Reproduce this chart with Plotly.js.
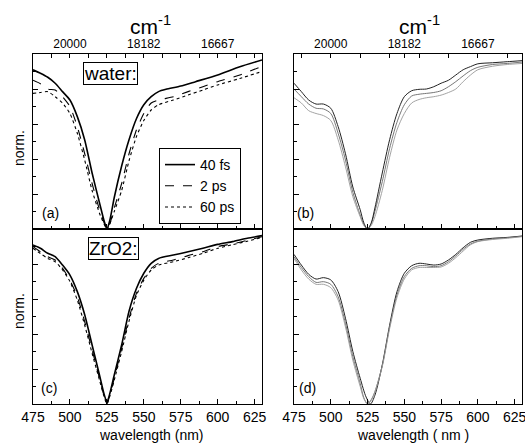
<!DOCTYPE html>
<html>
<head>
<meta charset="utf-8">
<script src="https://cdn.plot.ly/plotly-3.0.1.min.js"></script>
<style>html,body{margin:0;padding:0;background:#fff;}#chart{width:525px;height:443px;}</style>
</head>
<body>
<div id="chart"></div>
<script>
// ---------- data ----------
// Panel (a): water, measured spectra
const waterX = [475,480,485,490,495,500,505,510,515,520,523,525,527,530,535,540,545,550,555,560,565,575,585,600,615,630];
const water40fs = [0.91,0.89,0.867,0.833,0.785,0.737,0.642,0.509,0.32,0.15,0.05,0.0,0.05,0.18,0.36,0.51,0.63,0.71,0.756,0.785,0.798,0.817,0.842,0.88,0.927,0.966];
const water2psX = [475,480,485,490,495,500,505,510,515,520,523,525,527,530,535,540,545,550,555,560,570,580,590,600,615,630];
const water2ps = [0.85,0.83,0.80,0.794,0.756,0.70,0.585,0.43,0.26,0.11,0.04,0.0,0.03,0.12,0.26,0.43,0.566,0.66,0.72,0.737,0.756,0.785,0.813,0.842,0.88,0.93];
const water60ps = [0.775,0.78,0.785,0.756,0.72,0.66,0.547,0.394,0.22,0.09,0.03,0.0,0.03,0.10,0.22,0.39,0.528,0.62,0.68,0.71,0.737,0.766,0.794,0.823,0.86,0.90];

// Panel (b): water, calculated spectra
const calcX = [475,480,485,490,495,500,505,510,515,520,522.5,525,527.5,530,535,540,545,550,555,560,565,570,575,580,585,590,595,600,610,620,630];
const calcB1 = [0.833,0.785,0.737,0.714,0.714,0.69,0.585,0.43,0.24,0.11,0.035,0.0,0.035,0.12,0.32,0.51,0.66,0.756,0.79,0.798,0.80,0.813,0.833,0.85,0.88,0.91,0.928,0.944,0.95,0.956,0.962];
const calcB2 = [0.80,0.756,0.714,0.69,0.686,0.66,0.547,0.394,0.21,0.08,0.025,0.0,0.03,0.10,0.27,0.46,0.61,0.71,0.76,0.77,0.775,0.78,0.79,0.813,0.842,0.875,0.905,0.924,0.94,0.946,0.954];
const calcB3 = [0.75,0.72,0.676,0.66,0.648,0.62,0.51,0.356,0.185,0.07,0.02,0.0,0.02,0.07,0.22,0.41,0.566,0.66,0.72,0.74,0.75,0.756,0.765,0.78,0.80,0.842,0.88,0.91,0.93,0.94,0.946];

// Panel (c): ZrO2, measured spectra
const zrX = [475,480,485,490,495,500,505,510,515,520,523,525,527,530,535,540,545,550,555,560,570,580,590,600,610,620,630];
const zr40fs = [0.909,0.89,0.861,0.842,0.794,0.737,0.642,0.51,0.337,0.166,0.06,0.01,0.06,0.166,0.337,0.53,0.66,0.747,0.804,0.832,0.851,0.87,0.89,0.912,0.928,0.947,0.962];
const zr2ps = [0.899,0.87,0.842,0.823,0.775,0.708,0.613,0.47,0.309,0.147,0.05,0.0,0.05,0.147,0.318,0.49,0.632,0.718,0.775,0.804,0.823,0.848,0.87,0.9,0.915,0.935,0.956];
const zr60ps = [0.89,0.86,0.832,0.813,0.766,0.70,0.594,0.45,0.29,0.137,0.045,0.0,0.045,0.137,0.30,0.474,0.62,0.708,0.766,0.794,0.813,0.836,0.861,0.89,0.91,0.93,0.952];

// Panel (d): ZrO2, calculated spectra
const calcD1X = [475,480,485,490,495,500,505,510,515,520,524,527,530,535,540,545,550,555,560,565,570,575,580,585,590,595,600,610,620,630];
const calcD1 = [0.855,0.794,0.741,0.714,0.722,0.709,0.642,0.49,0.30,0.147,0.04,0.0,0.05,0.223,0.45,0.642,0.747,0.79,0.804,0.80,0.794,0.80,0.823,0.855,0.893,0.924,0.937,0.947,0.952,0.96];
const calcDX = [475,480,485,490,495,500,505,510,515,520,522.5,525,527.5,530,535,540,545,550,555,560,565,570,575,580,585,590,595,600,610,620,630];
const calcD2 = [0.842,0.78,0.728,0.695,0.699,0.684,0.613,0.46,0.27,0.118,0.035,0.0,0.025,0.07,0.22,0.44,0.623,0.728,0.775,0.79,0.79,0.785,0.79,0.813,0.846,0.884,0.914,0.93,0.943,0.95,0.958];
const calcD3 = [0.832,0.766,0.714,0.684,0.684,0.665,0.594,0.44,0.25,0.1,0.03,0.0,0.02,0.07,0.213,0.43,0.608,0.714,0.766,0.78,0.78,0.78,0.783,0.804,0.836,0.874,0.91,0.928,0.94,0.947,0.956];

// tick labels
const seriesNames = ['40 fs','2 ps','60 ps'];
const nmTicks = [475,500,525,550,575,600,625];
const cmTickPos = [500,550,600];
const cmTickText = ['20000','18182','16667'];
const topMinorLeft = [487.5,512.5,525,537.5,562.5,575,587.5,612.5,625];
const topMinorRight = [480,520,540,560,580,620];

// ---------- build ----------
const FONT = 'Liberation Sans, Arial, sans-serif';
const W = 525, H = 443;
const px = v => v / W;
const py = v => 1 - v / H;

const traces = [];
function meas(x, y, dash, width, name, xa, ya, legend) {
  traces.push({x: x, y: y, type: 'scatter', mode: 'lines', name: name,
    xaxis: xa, yaxis: ya, showlegend: legend, cliponaxis: true,
    line: {color: '#000', width: width, dash: dash, shape: 'spline', smoothing: 0.6}});
}
// the 40 fs water trace is referenced to the top (cm-1) axis, which has the identical range
meas(waterX, water40fs, 'solid', 1.6, seriesNames[0], 'x5', 'y', true);
meas(water2psX, water2ps, 'dash', 1.1, seriesNames[1], 'x', 'y', true);
meas(water2psX, water60ps, 'dot', 1.1, seriesNames[2], 'x', 'y', true);
meas(zrX, zr40fs, 'solid', 1.6, seriesNames[0], 'x3', 'y3', false);
meas(zrX, zr2ps, 'dash', 1.1, seriesNames[1], 'x3', 'y3', false);
meas(zrX, zr60ps, 'dot', 1.1, seriesNames[2], 'x3', 'y3', false);

function calc(x, y, color, width, name, xa, ya) {
  traces.push({x: x, y: y, type: 'scatter', mode: 'lines', name: name,
    xaxis: xa, yaxis: ya, showlegend: false,
    line: {color: color, width: width, shape: 'spline', smoothing: 0.8}});
}
calc(calcX, calcB1, '#222', 1.0, seriesNames[0], 'x6', 'y2');
calc(calcX, calcB2, '#666', 0.9, seriesNames[1], 'x2', 'y2');
calc(calcX, calcB3, '#999', 0.9, seriesNames[2], 'x2', 'y2');
calc(calcD1X, calcD1, '#222', 1.0, seriesNames[0], 'x4', 'y4');
calc(calcDX, calcD2, '#666', 0.9, seriesNames[1], 'x4', 'y4');
calc(calcDX, calcD3, '#999', 0.9, seriesNames[2], 'x4', 'y4');

const LEFT = [px(33), px(262)];
const RIGHT = [px(294), px(522)];
const TOP = [py(229), py(54)];
const BOT = [py(404), py(229)];

function xBottom(domain, anchor, labels, mirror) {
  return {domain: domain, anchor: anchor, range: [475, 630], showgrid: false, zeroline: false,
    showline: true, linecolor: '#000', linewidth: 1, mirror: mirror,
    tickmode: 'array', tickvals: nmTicks, ticks: 'inside', ticklen: 5, tickcolor: '#000',
    minor: {ticks: 'inside', ticklen: 3, tickcolor: '#000', tickmode: 'array', tickvals: [487.5,512.5,537.5,562.5,587.5,612.5]},
    showticklabels: labels, ticklabeloverflow: 'allow',
    tickfont: {family: FONT, size: 14, color: '#000'},
    automargin: false, fixedrange: true};
}
function xTop(over, anchor, minorVals) {
  return {overlaying: over, anchor: anchor, side: 'top', range: [475, 630], showgrid: false, zeroline: false,
    showline: true, linecolor: '#000', linewidth: 1,
    tickmode: 'array', tickvals: cmTickPos, ticktext: cmTickText, ticks: 'inside', ticklen: 4, tickcolor: '#000',
    minor: {ticks: 'inside', ticklen: 4, tickcolor: '#000', tickmode: 'array', tickvals: minorVals},
    ticklabeloverflow: 'allow', tickfont: {family: FONT, size: 12, color: '#000'}, automargin: false, fixedrange: true};
}
function yAx(domain, anchor) {
  return {domain: domain, anchor: anchor, range: [0, 1], showgrid: false, zeroline: false,
    showline: true, linecolor: '#000', linewidth: 1, mirror: true,
    tickmode: 'linear', tick0: 0, dtick: 0.2, ticks: 'inside', ticklen: 5, tickcolor: '#000',
    minor: {ticks: 'inside', ticklen: 3, tickcolor: '#000', dtick: 0.1},
    showticklabels: false, automargin: false, fixedrange: true};
}

const ann = [];
function txt(t, x, y, size, extra) {
  ann.push(Object.assign({text: t, x: px(x), y: py(y), xref: 'paper', yref: 'paper', showarrow: false,
    xanchor: 'center', yanchor: 'middle', font: {family: FONT, size: size, color: '#000'}}, extra || {}));
}
txt('cm<sup>-1</sup>', 150, 25, 21);
txt('cm<sup>-1</sup>', 419, 25, 21);
txt('water:', 110, 73.5, 19, {bordercolor: '#000', borderwidth: 1, borderpad: 0, bgcolor: '#fff'});
txt('ZrO2:', 113, 248, 19, {bordercolor: '#000', borderwidth: 1, borderpad: 0, bgcolor: '#fff'});
txt('(a)', 50, 213, 14);
txt('(b)', 305, 213, 14);
txt('(c)', 49, 388, 14);
txt('(d)', 307, 388, 14);
txt('norm.', 19, 148, 14, {textangle: -90});
txt('norm.', 19, 311, 14, {textangle: -90});
txt('wavelength (nm)', 151, 435, 14);
txt('wavelength ( nm )', 413, 435, 14);

const layout = {
  width: W, height: H, margin: {l: 0, r: 0, t: 0, b: 0, pad: 0},
  paper_bgcolor: '#fff', plot_bgcolor: '#fff',
  font: {family: FONT, color: '#000'},
  showlegend: true,
  legend: {x: px(159), y: py(148), xanchor: 'left', yanchor: 'top', bgcolor: '#fff',
    bordercolor: '#000', borderwidth: 1, font: {family: FONT, size: 14, color: '#000'},
    tracegroupgap: 0, itemwidth: 30},
  xaxis: xBottom(LEFT, 'y', false, false),
  yaxis: yAx(TOP, 'x'),
  xaxis2: xBottom(RIGHT, 'y2', false, false),
  yaxis2: yAx(TOP, 'x2'),
  xaxis3: xBottom(LEFT, 'y3', true, true),
  yaxis3: yAx(BOT, 'x3'),
  xaxis4: xBottom(RIGHT, 'y4', true, true),
  yaxis4: yAx(BOT, 'x4'),
  xaxis5: xTop('x', 'y', topMinorLeft),
  xaxis6: xTop('x2', 'y2', topMinorRight),
  annotations: ann
};

Plotly.newPlot('chart', traces, layout, {displayModeBar: false, staticPlot: true});
</script>
</body>
</html>
